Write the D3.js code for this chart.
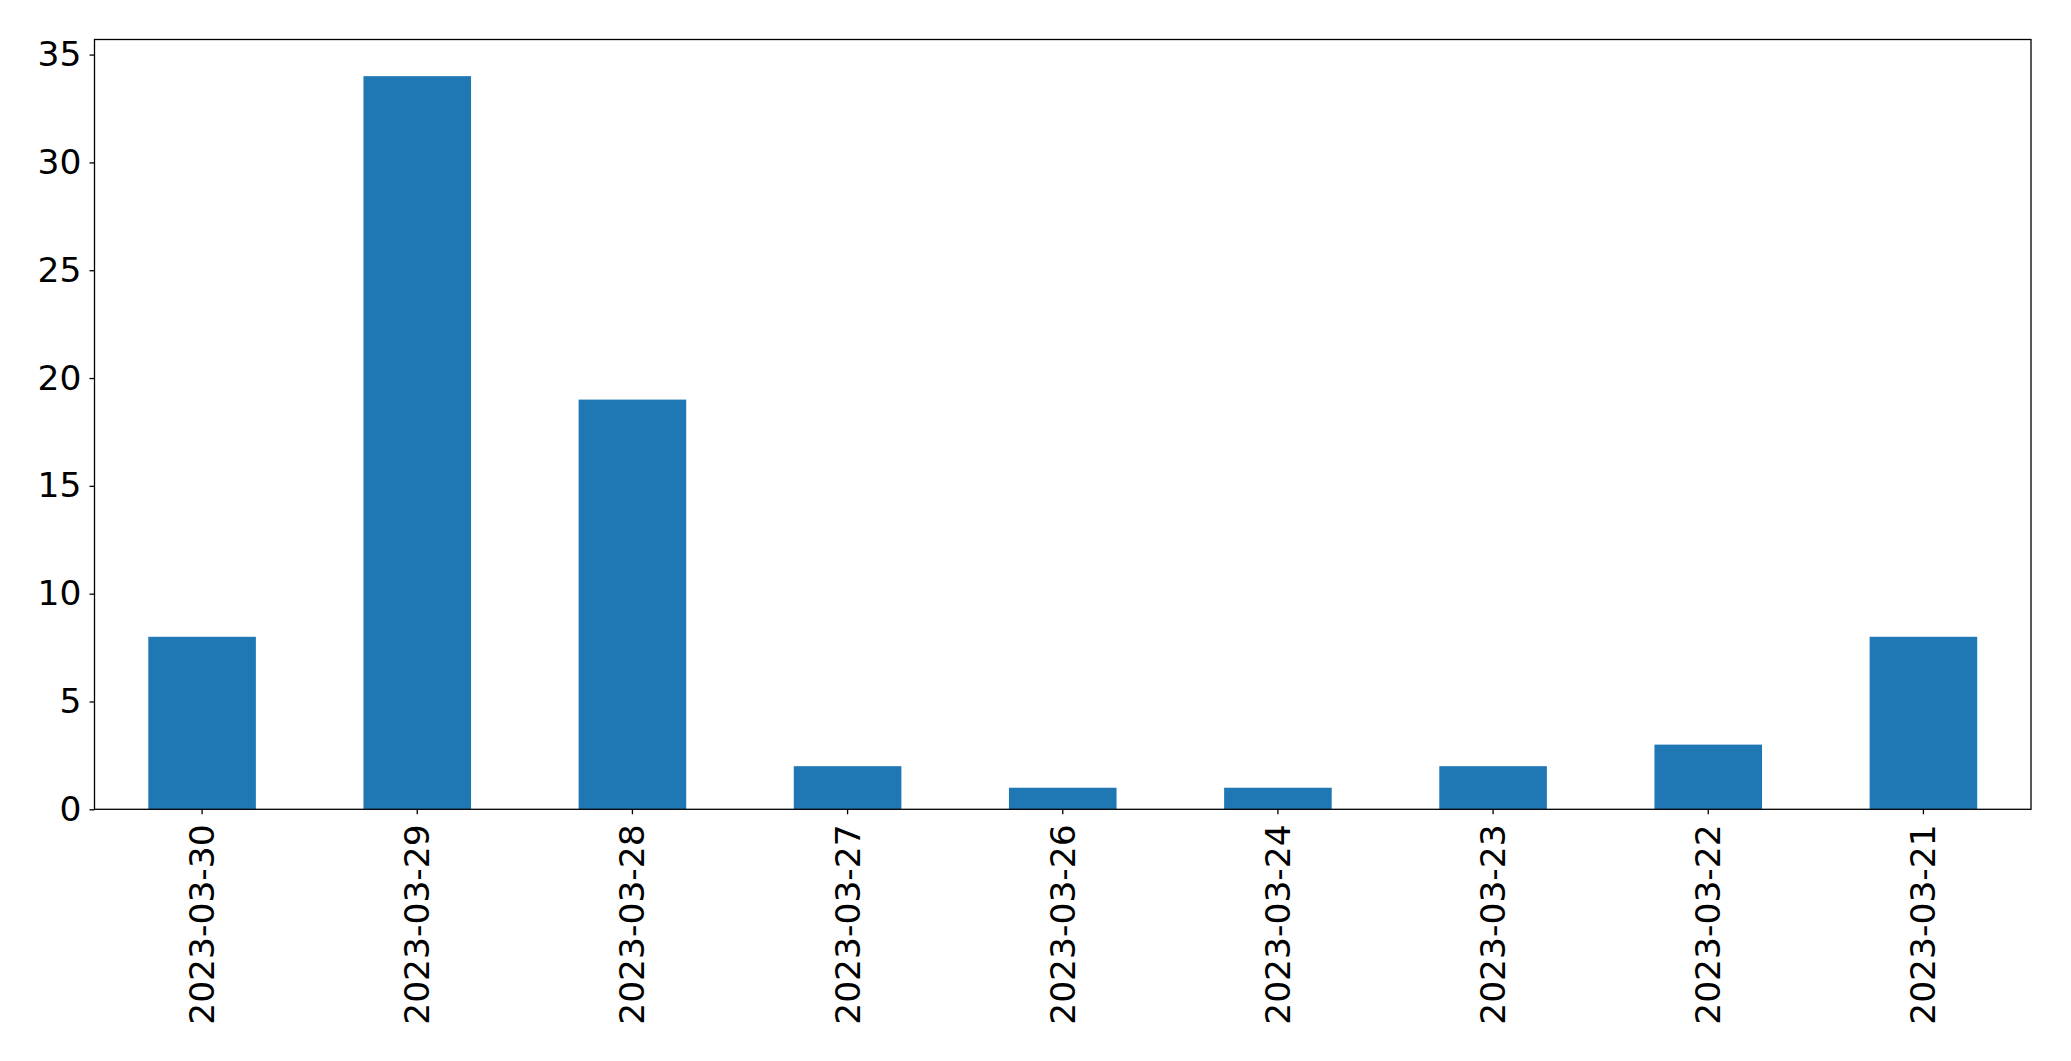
<!DOCTYPE html>
<html><head><meta charset="utf-8">
<script src="https://cdn.jsdelivr.net/npm/d3@7"></script>
<style>body{margin:0;background:#fff}svg{display:block}</style>
</head><body>
<script>
const categories = ["2023-03-30","2023-03-29","2023-03-28","2023-03-27","2023-03-26","2023-03-24","2023-03-23","2023-03-22","2023-03-21"];
const values = [8, 34, 19, 2, 1, 1, 2, 3, 8];
const yTicks = [0, 5, 10, 15, 20, 25, 30, 35];

const W = 2071, H = 1061;
const m = {left: 94.5, top: 39.5, right: 2071 - 2031, bottom: 1061 - 809.3};
const svg = d3.select("body").append("svg").attr("width", W).attr("height", H);
const x = d3.scaleBand().domain(categories).range([m.left, W - m.right]).paddingInner(0.5).paddingOuter(0.25);
const y = d3.scaleLinear().domain([0, d3.max(values) * 1.05]).range([H - m.bottom, m.top]);

svg.selectAll("rect.bar").data(values).enter().append("rect")
  .attr("class", "bar")
  .attr("x", (d, i) => x(categories[i]))
  .attr("width", x.bandwidth())
  .attr("y", d => y(d))
  .attr("height", d => y(0) - y(d))
  .attr("fill", "#1f77b4");

const font = "'DejaVu Sans', sans-serif";
const fs = 34.5;
const yAxis = svg.append("g").attr("transform", `translate(${m.left},0)`)
  .call(d3.axisLeft(y).tickValues(yTicks).tickSize(5).tickPadding(8).tickFormat(d3.format("d")));
yAxis.select(".domain").remove();
yAxis.selectAll("text").attr("font-family", font).attr("font-size", fs).attr("fill", "#000");
yAxis.selectAll("line").attr("stroke", "#000").attr("stroke-width", 1.3);

const xAxis = svg.append("g").attr("transform", `translate(0,${H - m.bottom})`)
  .call(d3.axisBottom(x).tickSize(5).tickPadding(0));
xAxis.select(".domain").remove();
xAxis.selectAll("line").attr("stroke", "#000").attr("stroke-width", 1.3);
xAxis.selectAll("text")
  .attr("font-family", font).attr("font-size", fs).attr("fill", "#000")
  .attr("transform", "rotate(-90)")
  .attr("text-anchor", "end")
  .attr("x", -15).attr("y", 0).attr("dy", "0.35em");

svg.append("rect")
  .attr("x", m.left).attr("y", m.top)
  .attr("width", W - m.right - m.left).attr("height", H - m.bottom - m.top)
  .attr("fill", "none").attr("stroke", "#000").attr("stroke-width", 1.3);
</script>
</body></html>
